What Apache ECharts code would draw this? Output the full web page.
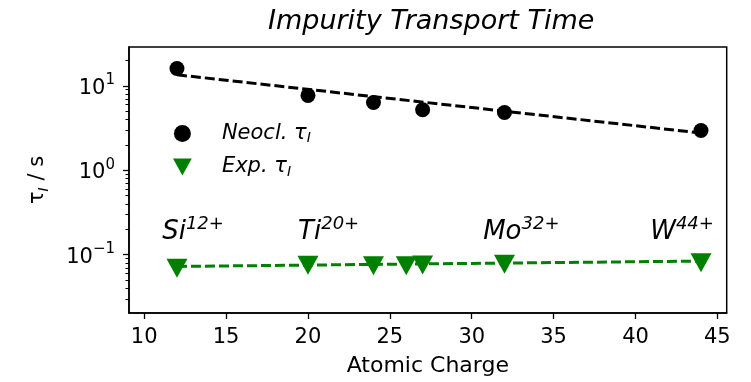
<!DOCTYPE html>
<html><head><meta charset="utf-8">
<script src="https://cdn.jsdelivr.net/npm/echarts@6/dist/echarts.min.js"></script>
<style>html,body{margin:0;padding:0;background:#fff}#c{width:751px;height:382px}</style>
</head><body><div id="c"></div>
<script>
// ---- data ----
const neoCharge = [12, 20, 24, 27, 32, 44];
const neoTau = [16.0, 7.7, 6.35, 5.2, 4.83, 2.96];
const expCharge = [12, 20, 24, 26, 27, 32, 44];
const expTau = [0.069, 0.075, 0.074, 0.074, 0.0757, 0.077, 0.0804];
const neoFitCharge = [12, 44];
const neoFitTau = [13.5, 2.76];
const expFitCharge = [12, 44];
const expFitTau = [0.0726, 0.084];
const ionNames = ['Si', 'Ti', 'Mo', 'W'];
const ionCharges = ['12+', '20+', '32+', '44+'];
const ionLabelX = [11.1, 19.4, 30.7, 40.9];
const ionLabelY = [0.143, 0.143, 0.143, 0.143];
const xTicks = [10, 15, 20, 25, 30, 35, 40, 45];
const yMajorTicks = [0.1, 1, 10];
const yMinorTicks = [0.03,0.04,0.05,0.06,0.07,0.08,0.09,0.2,0.3,0.4,0.5,0.6,0.7,0.8,0.9,2,3,4,5,6,7,8,9,20];
const xMin = 9.07, xMax = 45.57, yMin = 0.0204, yMax = 28.8;
const titleText = 'Impurity Transport Time';
const xName = 'Atomic Charge';
const neoName = 'Neocl. τI';
const expName = 'Exp. τI';

const FF = 'DejaVu Sans';
const zip = (a, b) => a.map((v, i) => [v, b[i]]);

const chart = echarts.init(document.getElementById('c'), null, {renderer: 'canvas'});
const option = {
  animation: false,
  backgroundColor: '#fff',
  title: {
    text: titleText, left: 263, top: 3,
    textStyle: {fontFamily: FF, fontStyle: 'italic', fontWeight: 'normal', fontSize: 27, color: '#000'}
  },
  grid: {left: 129, right: 24.3, top: 47, bottom: 68.7, show: true, borderColor: '#000', borderWidth: 1.5, backgroundColor: 'transparent'},
  legend: {
    orient: 'vertical', left: 168, top: 118, itemGap: 11, itemWidth: 21, itemHeight: 17,
    data: [
      {name: neoName, icon: 'circle'},
      {name: expName, icon: 'path://M0,0L21,0L10.5,19Z'}
    ],
    formatter: function (n) {
      return n === neoName ? '{a|Neocl. τ}{s|I}' : '{a|Exp. τ}{s|I}';
    },
    textStyle: {
      padding: [0, 0, 0, 24],
      rich: {
        a: {fontFamily: FF, fontStyle: 'italic', fontSize: 21, color: '#000', lineHeight: 24},
        s: {fontFamily: FF, fontStyle: 'italic', fontSize: 14, color: '#000', verticalAlign: 'bottom', lineHeight: 18}
      }
    }
  },
  xAxis: {
    type: 'value', min: xMin, max: xMax,
    name: xName, nameLocation: 'middle', nameGap: 42,
    nameTextStyle: {fontFamily: FF, fontSize: 22, color: '#000'},
    axisLine: {show: true, onZero: false, lineStyle: {color: '#000', width: 1.5}},
    axisTick: {show: true, length: 6, customValues: xTicks, lineStyle: {color: '#000', width: 1.3}},
    axisLabel: {customValues: xTicks, fontFamily: FF, fontSize: 21, color: '#000', margin: 14},
    splitLine: {show: false}
  },
  yAxis: [{
    type: 'log', logBase: 10, min: yMin, max: yMax,
    name: '{a|τ}{s|I}{a| / s}', nameLocation: 'middle', nameGap: 78,
    nameTextStyle: {
      rich: {
        a: {fontFamily: FF, fontSize: 21, color: '#000', lineHeight: 26},
        s: {fontFamily: FF, fontStyle: 'italic', fontSize: 14, color: '#000', verticalAlign: 'bottom', lineHeight: 20}
      }
    },
    axisLine: {show: true, onZero: false, lineStyle: {color: '#000', width: 1.5}},
    axisTick: {show: true, length: 6, customValues: yMajorTicks, lineStyle: {color: '#000', width: 1.3}},
    axisLabel: {
      customValues: yMajorTicks, margin: 14,
      formatter: function (v) {
        const e = Math.round(Math.log10(v));
        return '{b|10}{s|' + (e < 0 ? '\u2212' + (-e) : e) + '}';
      },
      rich: {
        b: {fontFamily: FF, fontSize: 21, color: '#000', lineHeight: 26, verticalAlign: 'bottom'},
        s: {fontFamily: FF, fontSize: 15, color: '#000', lineHeight: 12, verticalAlign: 'top'}
      }
    },
    splitLine: {show: false}
  }, {
    type: 'log', logBase: 10, min: yMin, max: yMax, position: 'left',
    axisLine: {show: false},
    axisTick: {show: true, length: 3.5, customValues: yMinorTicks, lineStyle: {color: '#000', width: 1}},
    axisLabel: {show: false},
    splitLine: {show: false}
  }],
  series: [
    {
      type: 'line', data: zip(neoFitCharge, neoFitTau), symbol: 'none', silent: true,
      lineStyle: {color: '#000', width: 3, type: [10, 4]}, z: 2
    },
    {
      type: 'line', data: zip(expFitCharge, expFitTau), symbol: 'none', silent: true,
      lineStyle: {color: '#008000', width: 3, type: [10, 4]}, z: 2
    },
    {
      name: neoName, type: 'scatter', data: zip(neoCharge, neoTau),
      symbol: 'circle', symbolSize: 15, itemStyle: {color: '#000', opacity: 1}, z: 3
    },
    {
      name: expName, type: 'scatter', data: zip(expCharge, expTau),
      symbol: 'triangle', symbolSize: [21, 19], symbolRotate: 180,
      itemStyle: {color: '#008000', opacity: 1}, z: 3
    },
    {
      type: 'scatter', silent: true, symbolSize: 0.1, itemStyle: {color: 'rgba(0,0,0,0)'},
      data: ionLabelX.map((x, i) => ({value: [x, ionLabelY[i]], ion: ionNames[i], q: ionCharges[i]})),
      label: {
        show: true, position: [0, 0], align: 'left', verticalAlign: 'bottom', offset: [0, 4],
        color: '#000', opacity: 1,
        formatter: function (p) { return '{m|' + p.data.ion + '}{s|' + p.data.q + '}'; },
        rich: {
          m: {fontFamily: FF, fontStyle: 'italic', fontSize: 26, color: '#000', lineHeight: 30, verticalAlign: 'bottom'},
          s: {fontFamily: FF, fontStyle: 'italic', fontSize: 18, color: '#000', lineHeight: 14, verticalAlign: 'top'}
        }
      },
      emphasis: {disabled: true},
      z: 4
    }
  ]
};
chart.setOption(option);
</script>
</body></html>
